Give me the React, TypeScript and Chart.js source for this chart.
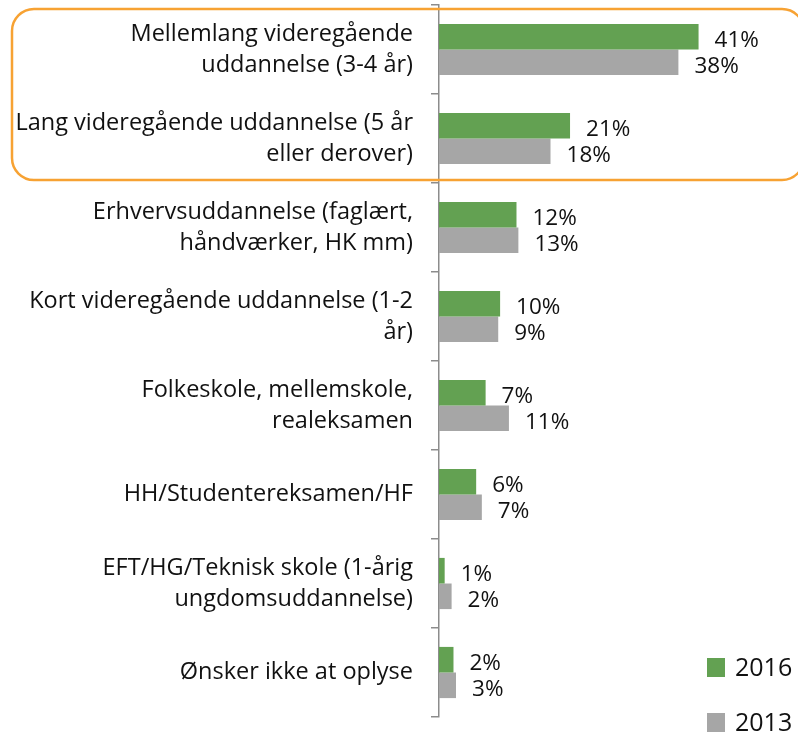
import React, { useEffect, useRef } from "react";
import { Chart, registerables } from "chart.js";

Chart.register(...registerables);

const categories: (string | string[])[] = [
  ["Mellemlang videregående", "uddannelse (3-4 år)"],
  ["Lang videregående uddannelse (5 år", "eller derover)"],
  ["Erhvervsuddannelse (faglært,", "håndværker, HK mm)"],
  ["Kort videregående uddannelse (1-2", "år)"],
  ["Folkeskole, mellemskole,", "realeksamen"],
  "HH/Studentereksamen/HF",
  ["EFT/HG/Teknisk skole (1-årig", "ungdomsuddannelse)"],
  "Ønsker ikke at oplyse",
];

const values2016 = [41.2, 20.8, 12.3, 9.7, 7.4, 5.9, 0.9, 2.3];
const values2013 = [38.0, 17.7, 12.6, 9.4, 11.1, 6.8, 2.0, 2.7];
const seriesLabels = ["2016", "2013"];

const GREEN = "#63A152";
const GRAY = "#A6A6A6";
const ORANGE = "#F7A233";
const FONT = '"Open Sans", sans-serif';

const valueLabelPlugin = {
  id: "valueLabels",
  afterDatasetsDraw(chart: any) {
    const ctx = chart.ctx;
    ctx.save();
    ctx.font = `22.5px ${FONT}`;
    ctx.fillStyle = "#111";
    ctx.textAlign = "left";
    ctx.textBaseline = "middle";
    chart.data.datasets.forEach((ds: any, di: number) => {
      const meta = chart.getDatasetMeta(di);
      meta.data.forEach((el: any, i: number) => {
        const v = ds.data[i];
        ctx.fillText(`${Math.round(v)}%`, el.x + 16, el.y + 4);
      });
    });
    ctx.restore();
  },
};

const highlightPlugin = {
  id: "highlight",
  afterDraw(chart: any) {
    const ctx = chart.ctx;
    const y = chart.scales.y;
    const half = (y.getPixelForValue(1) - y.getPixelForValue(0)) / 2;
    const top = y.getPixelForValue(0) - half + 4;
    const bottom = y.getPixelForValue(1) + half - 3;
    const left = 12;
    const right = chart.width + 6;
    const r = 22;
    ctx.save();
    ctx.strokeStyle = ORANGE;
    ctx.lineWidth = 2.5;
    ctx.beginPath();
    ctx.moveTo(left + r, top);
    ctx.lineTo(right - r, top);
    ctx.arcTo(right, top, right, top + r, r);
    ctx.lineTo(right, bottom - r);
    ctx.arcTo(right, bottom, right - r, bottom, r);
    ctx.lineTo(left + r, bottom);
    ctx.arcTo(left, bottom, left, bottom - r, r);
    ctx.lineTo(left, top + r);
    ctx.arcTo(left, top, left + r, top, r);
    ctx.closePath();
    ctx.stroke();
    ctx.restore();
  },
};

const legendPlugin = {
  id: "customLegend",
  afterDraw(chart: any) {
    const ctx = chart.ctx;
    ctx.save();
    ctx.font = `25px ${FONT}`;
    ctx.textAlign = "left";
    ctx.textBaseline = "middle";
    const x = 707;
    const ys = [658, 713];
    chart.data.datasets.forEach((ds: any, i: number) => {
      ctx.fillStyle = ds.backgroundColor;
      ctx.fillRect(x, ys[i], 18, 19);
      ctx.fillStyle = "#111";
      ctx.fillText(ds.label, x + 28, ys[i] + 11);
    });
    ctx.restore();
  },
};

export default function App() {
  const canvasRef = useRef<HTMLCanvasElement | null>(null);

  useEffect(() => {
    let chart: Chart | null = null;
    let cancelled = false;
    const make = () => {
      if (cancelled || !canvasRef.current) return;
      chart = new Chart(canvasRef.current, {
        type: "bar",
        data: {
          labels: categories,
          datasets: [
            {
              label: seriesLabels[0],
              data: values2016,
              backgroundColor: GREEN,
              categoryPercentage: 0.575,
              barPercentage: 1,
            },
            {
              label: seriesLabels[1],
              data: values2013,
              backgroundColor: GRAY,
              categoryPercentage: 0.575,
              barPercentage: 1,
            },
          ],
        },
        options: {
          indexAxis: "y",
          animation: false,
          responsive: false,
          layout: { padding: { top: 5, bottom: 19, left: 0, right: 44 } },
          plugins: {
            legend: { display: false },
            tooltip: { enabled: false },
          },
          scales: {
            x: {
              display: false,
              min: 0,
              max: 50,
            },
            y: {
              afterFit(scale: any) {
                scale.width = 439;
                scale.paddingTop = 0;
                scale.paddingBottom = 0;
              },
              border: { display: true, color: "#8c8c8c", width: 1.5 },
              grid: {
                display: true,
                drawOnChartArea: false,
                drawTicks: true,
                tickLength: 8,
                color: "#8c8c8c",
                lineWidth: 1.5,
                offset: true,
              },
              ticks: {
                color: "#111",
                padding: 18,
                font: { family: FONT, size: 23.5, lineHeight: 1.33 },
              },
            },
          },
        },
        plugins: [valueLabelPlugin, highlightPlugin, legendPlugin],
      } as any);
    };
    const fonts = (document as any).fonts;
    if (fonts && fonts.load) {
      Promise.all([
        fonts.load(`23px "Open Sans"`),
        fonts.load(`25px "Open Sans"`),
      ])
        .catch(() => {})
        .then(make);
    } else {
      make();
    }
    return () => {
      cancelled = true;
      if (chart) chart.destroy();
    };
  }, []);

  return (
    <div style={{ position: "fixed", left: 0, top: 0, width: 798, height: 736, background: "#fff" }}>
      <canvas ref={canvasRef} width={798} height={736} style={{ display: "block" }} />
    </div>
  );
}
